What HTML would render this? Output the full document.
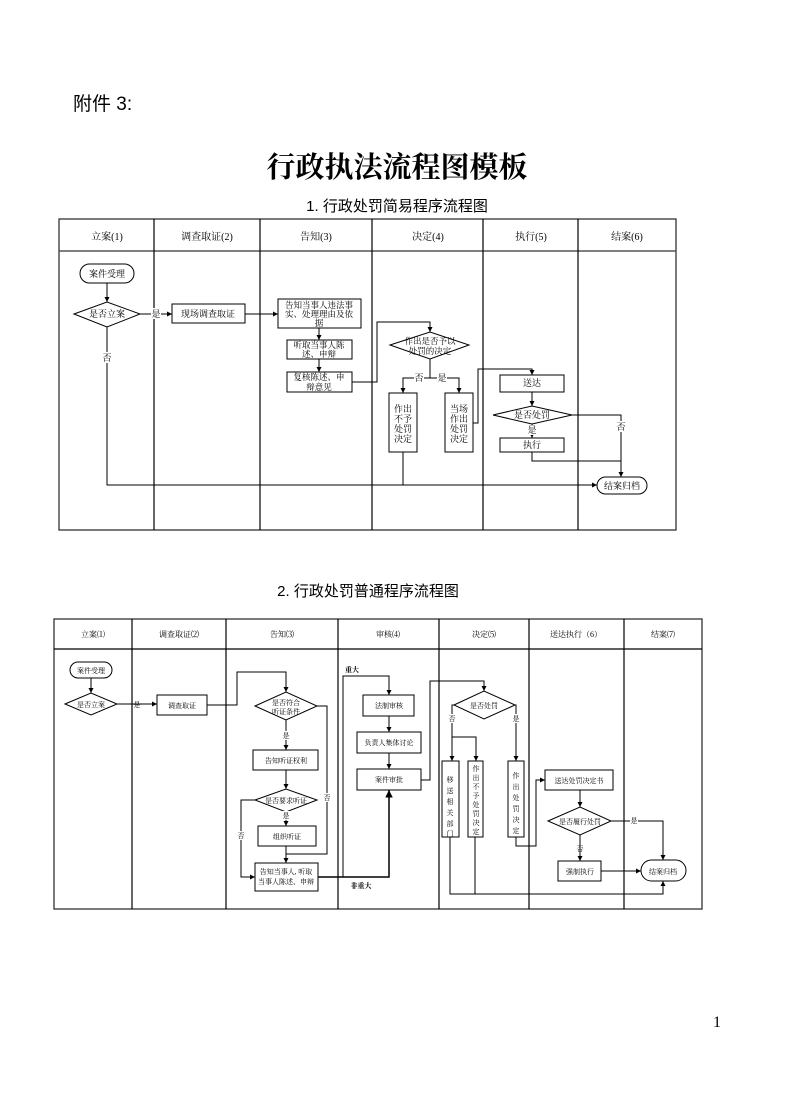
<!DOCTYPE html>
<html><head><meta charset="utf-8"><style>
html,body{margin:0;padding:0;background:#fff;}
svg{display:block;}
.s{font-family:"Liberation Serif","Noto Serif CJK SC",serif;}
.a{font-family:"Liberation Sans","Noto Sans CJK SC",sans-serif;}
</style></head><body>
<svg width="794" height="1108" viewBox="0 0 794 1108" xmlns="http://www.w3.org/2000/svg">
<defs>
<marker id="ar" viewBox="0 0 10 10" refX="10" refY="5" markerWidth="5" markerHeight="5" orient="auto"><path d="M0,0L10,5L0,10z" fill="#000"/></marker>
</defs>
<text x="73" y="110" font-size="19" class="a">附件 3:</text>
<text x="397" y="177" font-size="29" font-weight="bold" text-anchor="middle" class="s">行政执法流程图模板</text>
<text x="397" y="211" font-size="15" text-anchor="middle" class="a">1. 行政处罚简易程序流程图</text>
<text x="368" y="596" font-size="15" text-anchor="middle" class="a">2. 行政处罚普通程序流程图</text>
<text x="717" y="1027" font-size="16" text-anchor="middle" class="s">1</text>

<!-- Diagram 1 -->
<g fill="none" stroke="#000" stroke-width="1">
<rect x="59" y="219" width="617" height="311" stroke="#333" stroke-width="1.3"/>
<line x1="59" y1="251" x2="676" y2="251" stroke="#555" stroke-width="1.5"/>
<line x1="154" y1="219" x2="154" y2="530" stroke-width="1.2"/>
<line x1="260" y1="219" x2="260" y2="530" stroke-width="1.2"/>
<line x1="372" y1="219" x2="372" y2="530" stroke-width="1.2"/>
<line x1="483" y1="219" x2="483" y2="530" stroke-width="1.2"/>
<line x1="578" y1="219" x2="578" y2="530" stroke-width="1.2"/>
</g>
<g class="s" font-size="10" text-anchor="middle">
<text x="107" y="240">立案(1)</text><text x="207" y="240">调查取证(2)</text><text x="316" y="240">告知(3)</text>
<text x="428" y="240">决定(4)</text><text x="531" y="240">执行(5)</text><text x="627" y="240">结案(6)</text>
</g>
<g fill="#fff" stroke="#000" stroke-width="1">
<rect x="80" y="264" width="54" height="19" rx="9.5"/>
<polygon points="74,314 107,302 140,314 107,327"/>
<rect x="172" y="304" width="73" height="19"/>
<rect x="278" y="299" width="83" height="29"/>
<rect x="287" y="340" width="65" height="19"/>
<rect x="287" y="372" width="65" height="20"/>
<polygon points="390,345 430,332 469,345 430,359"/>
<rect x="389" y="393" width="28" height="59"/>
<rect x="445" y="393" width="28" height="59"/>
<rect x="500" y="375" width="64" height="17"/>
<polygon points="493,415 532,406 572,415 532,424"/>
<rect x="500" y="438" width="64" height="14"/>
<rect x="597" y="477" width="50" height="17" rx="8.5"/>
</g>
<g fill="none" stroke="#000" stroke-width="1">
<line x1="107" y1="283" x2="107" y2="302" marker-end="url(#ar)"/>
<line x1="140" y1="314" x2="172" y2="314" marker-end="url(#ar)"/>
<line x1="245" y1="314" x2="278" y2="314" marker-end="url(#ar)"/>
<line x1="319" y1="328" x2="319" y2="340" marker-end="url(#ar)"/>
<line x1="319" y1="359" x2="319" y2="372" marker-end="url(#ar)"/>
<polyline points="352,382 377,382 377,322 430,322 430,332" marker-end="url(#ar)"/>
<line x1="430" y1="359" x2="430" y2="378"/>
<polyline points="430,378 403,378 403,393" marker-end="url(#ar)"/>
<polyline points="430,378 459,378 459,393" marker-end="url(#ar)"/>
<polyline points="473,423 478,423 478,369 532,369 532,375" marker-end="url(#ar)"/>
<line x1="532" y1="392" x2="532" y2="406" marker-end="url(#ar)"/>
<line x1="532" y1="424" x2="532" y2="438" marker-end="url(#ar)"/>
<polyline points="572,415 621,415 621,477" marker-end="url(#ar)"/>
<polyline points="532,452 532,461 621,461"/>
<polyline points="107,327 107,485 597,485" marker-end="url(#ar)"/>
<line x1="403" y1="452" x2="403" y2="485"/>
</g>
<g class="s" font-size="9" text-anchor="middle">
<text x="107" y="277">案件受理</text>
<text x="107" y="317">是否立案</text>
<rect x="151" y="308" width="10" height="11" fill="#fff"/><text x="156" y="317">是</text>
<rect x="103" y="352" width="9" height="11" fill="#fff"/><text x="107" y="361">否</text>
<text x="208" y="317">现场调查取证</text>
<g font-size="8.5">
<text x="319" y="308">告知当事人违法事</text><text x="319" y="317">实、处理理由及依</text><text x="319" y="326">据</text>
<text x="319" y="348">听取当事人陈</text><text x="319" y="357">述、申辩</text>
<text x="319" y="380">复核陈述、申</text><text x="319" y="390">辩意见</text>
<text x="430" y="344">作出是否予以</text><text x="430" y="354">处罚的决定</text>
</g>
<rect x="414" y="373" width="10" height="10" fill="#fff"/><text x="419" y="381">否</text>
<rect x="437" y="373" width="10" height="10" fill="#fff"/><text x="442" y="381">是</text>
<text x="403" y="412">作出</text><text x="403" y="422">不予</text><text x="403" y="432">处罚</text><text x="403" y="442">决定</text>
<text x="459" y="412">当场</text><text x="459" y="422">作出</text><text x="459" y="432">处罚</text><text x="459" y="442">决定</text>
<text x="532" y="386">送达</text>
<text x="532" y="418">是否处罚</text>
<rect x="527" y="425" width="10" height="10" fill="#fff"/><text x="532" y="433">是</text>
<text x="532" y="448">执行</text>
<rect x="616" y="421" width="10" height="11" fill="#fff"/><text x="621" y="430">否</text>
<text x="622" y="489">结案归档</text>
</g>

<!-- Diagram 2 -->
<g fill="none" stroke="#000" stroke-width="1">
<rect x="54" y="619" width="648" height="290" stroke="#333" stroke-width="1.3"/>
<line x1="54" y1="649" x2="702" y2="649" stroke-width="1.2"/>
<line x1="132" y1="619" x2="132" y2="909" stroke-width="1.2"/>
<line x1="226" y1="619" x2="226" y2="909" stroke-width="1.2"/>
<line x1="338" y1="619" x2="338" y2="909" stroke-width="1.2"/>
<line x1="439" y1="619" x2="439" y2="909" stroke-width="1.2"/>
<line x1="529" y1="619" x2="529" y2="909" stroke-width="1.2"/>
<line x1="624" y1="619" x2="624" y2="909" stroke-width="1.2"/>
</g>
<g class="s" font-size="8" text-anchor="middle">
<text x="93" y="637">立案⑴</text><text x="179" y="637">调查取证⑵</text><text x="282" y="637">告知⑶</text>
<text x="388" y="637">审核⑷</text><text x="484" y="637">决定⑸</text><text x="576" y="637">送达执行（6）</text><text x="663" y="637">结案⑺</text>
</g>
<g fill="#fff" stroke="#000" stroke-width="1">
<rect x="70" y="662" width="42" height="16" rx="8"/>
<polygon points="65,704 91,693 117,704 91,715"/>
<rect x="157" y="695" width="50" height="20"/>
<polygon points="255,706 286,692 317,706 286,720"/>
<rect x="253" y="750" width="65" height="20"/>
<polygon points="255,800 286,789 317,800 286,812"/>
<rect x="258" y="826" width="58" height="20"/>
<rect x="255" y="863" width="63" height="28"/>
<rect x="363" y="695" width="51" height="21"/>
<rect x="357" y="732" width="64" height="21"/>
<rect x="357" y="769" width="64" height="21"/>
<polygon points="454,705 484,691 515,705 484,719"/>
<rect x="442" y="761" width="17" height="76"/>
<rect x="468" y="761" width="15" height="76"/>
<rect x="508" y="761" width="16" height="76"/>
<rect x="545" y="770" width="68" height="20"/>
<polygon points="548,821 580,807 611,821 580,835"/>
<rect x="558" y="861" width="43" height="20"/>
<rect x="641" y="860" width="45" height="21" rx="10.5"/>
</g>
<g fill="none" stroke="#000" stroke-width="1">
<line x1="91" y1="678" x2="91" y2="693" marker-end="url(#ar)"/>
<line x1="117" y1="704" x2="157" y2="704" marker-end="url(#ar)"/>
<polyline points="207,705 237,705 237,672 286,672 286,692" marker-end="url(#ar)"/>
<line x1="286" y1="720" x2="286" y2="750" marker-end="url(#ar)"/>
<line x1="286" y1="770" x2="286" y2="789" marker-end="url(#ar)"/>
<line x1="286" y1="812" x2="286" y2="826" marker-end="url(#ar)"/>
<line x1="286" y1="846" x2="286" y2="863" marker-end="url(#ar)"/>
<polyline points="317,706 327,706 327,854 286,854"/>
<polyline points="255,800 241,800 241,877 255,877" marker-end="url(#ar)"/>
<polyline points="318,877 389,877 389,790" marker-end="url(#ar)" stroke-width="1.5"/>
<polyline points="343,877 343,676 389,676 389,695" marker-end="url(#ar)"/>
<line x1="389" y1="716" x2="389" y2="732" marker-end="url(#ar)"/>
<line x1="389" y1="753" x2="389" y2="769" marker-end="url(#ar)"/>
<polyline points="421,780 430,780 430,681 484,681 484,691" marker-end="url(#ar)"/>
<polyline points="454,705 452,705 452,761" marker-end="url(#ar)"/>
<polyline points="452,737 476,737 476,761" marker-end="url(#ar)"/>
<polyline points="515,705 516,705 516,761" marker-end="url(#ar)"/>
<polyline points="516,837 516,846 536,846 536,780 545,780" marker-end="url(#ar)"/>
<line x1="580" y1="790" x2="580" y2="807" marker-end="url(#ar)"/>
<polyline points="611,821 663,821 663,860" marker-end="url(#ar)"/>
<line x1="580" y1="835" x2="580" y2="861" marker-end="url(#ar)"/>
<line x1="601" y1="871" x2="641" y2="871" marker-end="url(#ar)"/>
<polyline points="450,837 450,894 663,894 663,881" marker-end="url(#ar)"/>
<line x1="475" y1="837" x2="475" y2="894"/>
</g>
<g class="s" font-size="7" text-anchor="middle">
<text x="91" y="673">案件受理</text>
<text x="91" y="707">是否立案</text>
<text x="137" y="707">是</text>
<text x="182" y="708">调查取证</text>
<text x="286" y="705">是否符合</text><text x="286" y="714">听证条件</text>
<rect x="282" y="731" width="8" height="9" fill="#fff"/><text x="286" y="738">是</text>
<text x="286" y="763">告知听证权利</text>
<text x="286" y="803">是否要求听证</text>
<rect x="282" y="811" width="8" height="9" fill="#fff"/><text x="286" y="818">是</text>
<text x="287" y="839">组织听证</text>
<text x="286" y="874">告知当事人, 听取</text><text x="286" y="884">当事人陈述、申辩</text>
<rect x="323" y="793" width="8" height="9" fill="#fff"/><text x="327" y="800">否</text>
<rect x="237" y="831" width="8" height="9" fill="#fff"/><text x="241" y="838">否</text>
<text x="352" y="672" font-weight="bold">重大</text>
<text x="361" y="888" font-weight="bold">非重大</text>
<text x="389" y="708">法制审核</text>
<text x="389" y="745">负责人集体讨论</text>
<text x="389" y="782">案件审批</text>
<text x="484" y="708">是否处罚</text>
<rect x="448" y="714" width="8" height="9" fill="#fff"/><text x="452" y="721">否</text>
<rect x="512" y="714" width="8" height="9" fill="#fff"/><text x="516" y="721">是</text>
<text x="450" y="782">移</text><text x="450" y="793">送</text><text x="450" y="804">相</text><text x="450" y="815">关</text><text x="450" y="826">部</text><text x="450" y="836">门</text>
<text x="476" y="771">作</text><text x="476" y="780">出</text><text x="476" y="789">不</text><text x="476" y="798">予</text><text x="476" y="807">处</text><text x="476" y="816">罚</text><text x="476" y="825">决</text><text x="476" y="834">定</text>
<text x="516" y="778">作</text><text x="516" y="789">出</text><text x="516" y="800">处</text><text x="516" y="811">罚</text><text x="516" y="822">决</text><text x="516" y="833">定</text>
<text x="579" y="783">送达处罚决定书</text>
<text x="580" y="824">是否履行处罚</text>
<rect x="630" y="816" width="8" height="9" fill="#fff"/><text x="634" y="823">是</text>
<text x="580" y="851">否</text>
<text x="580" y="874">强制执行</text>
<text x="663" y="874">结案归档</text>
</g>
</svg>
</body></html>
